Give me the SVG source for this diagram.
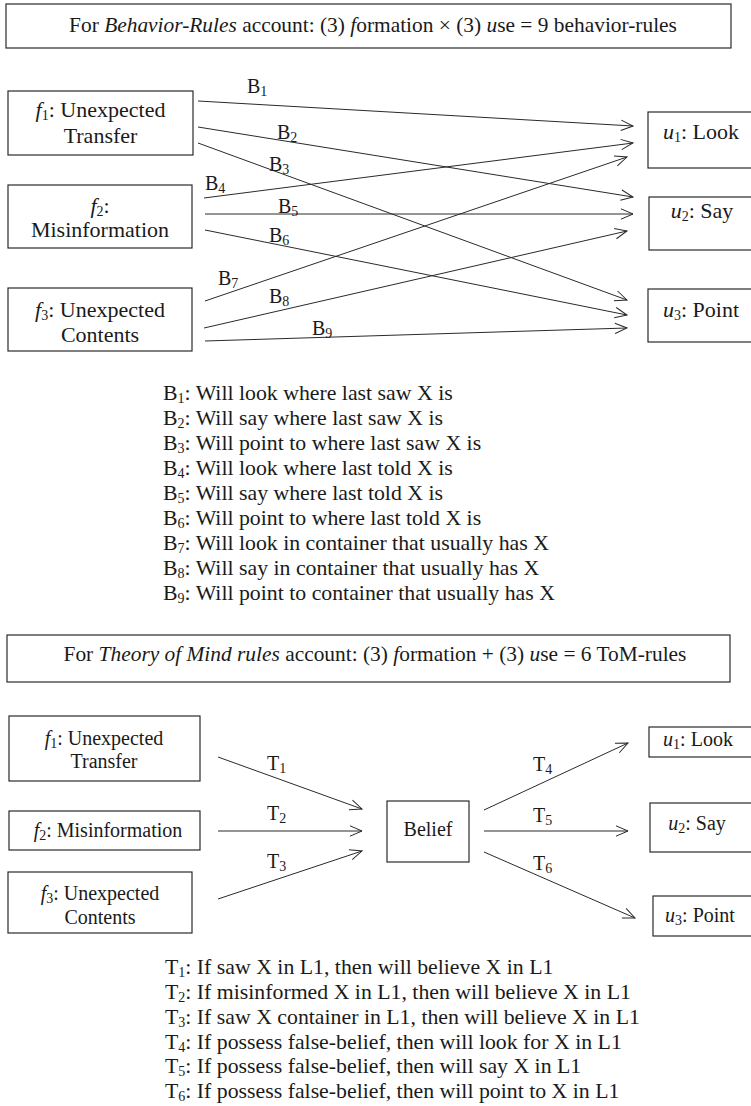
<svg xmlns="http://www.w3.org/2000/svg" width="751" height="1106" viewBox="0 0 751 1106">
<style>
text{font-family:"Liberation Serif","Times New Roman",serif;fill:#1a1a1a}
.box{fill:#fff;stroke:#2a2a2a;stroke-width:1.2}
.n1{font-size:22px}
.n2{font-size:20px}
.hd{font-size:21.4px}
.lg{font-size:21.8px}
.lb{font-size:20px}
.sub{font-size:14px}
.it{font-style:italic}
.ln{stroke:#2a2a2a;stroke-width:1;fill:none;marker-end:url(#ah)}
</style>
<defs>
<marker id="ah" markerUnits="userSpaceOnUse" markerWidth="14" markerHeight="12" viewBox="0 0 14 12" refX="13" refY="6" orient="auto">
<path d="M1,0.8 L13,6 L1,11.2" fill="none" stroke="#2a2a2a" stroke-width="1"/>
</marker>
</defs>
<rect width="751" height="1106" fill="#fff"/>

<g id="header1">
<rect class="box" x="6" y="4" width="725" height="44"/>
<text class="hd" x="373" y="32" text-anchor="middle">For <tspan class="it">Behavior-Rules</tspan> account: (3) <tspan class="it">f</tspan>ormation × (3) <tspan class="it">u</tspan>se = 9 behavior-rules</text>
</g>

<g id="top-f1">
<rect class="box" x="8" y="91" width="185" height="64"/>
<text class="n1" x="100.5" y="117" text-anchor="middle"><tspan class="it">f</tspan><tspan class="sub" dy="3">1</tspan><tspan dy="-3">: Unexpected</tspan></text>
<text class="n1" x="100.5" y="143" text-anchor="middle">Transfer</text>
</g>
<g id="top-f2">
<rect class="box" x="8" y="185" width="184" height="63"/>
<text class="n1" x="100" y="213" text-anchor="middle"><tspan class="it">f</tspan><tspan class="sub" dy="3">2</tspan><tspan dy="-3">:</tspan></text>
<text class="n1" x="100" y="237" text-anchor="middle">Misinformation</text>
</g>
<g id="top-f3">
<rect class="box" x="8" y="288" width="184" height="63"/>
<text class="n1" x="100" y="317" text-anchor="middle"><tspan class="it">f</tspan><tspan class="sub" dy="3">3</tspan><tspan dy="-3">: Unexpected</tspan></text>
<text class="n1" x="100" y="342" text-anchor="middle">Contents</text>
</g>
<g id="top-u1">
<rect class="box" x="648" y="112" width="105" height="56"/>
<text class="n1" x="701" y="139" text-anchor="middle"><tspan class="it">u</tspan><tspan class="sub" dy="3">1</tspan><tspan dy="-3">: Look</tspan></text>
</g>
<g id="top-u2">
<rect class="box" x="649" y="197" width="104" height="53"/>
<text class="n1" x="702" y="218" text-anchor="middle"><tspan class="it">u</tspan><tspan class="sub" dy="3">2</tspan><tspan dy="-3">: Say</tspan></text>
</g>
<g id="top-u3">
<rect class="box" x="648" y="289" width="105" height="53"/>
<text class="n1" x="701" y="317" text-anchor="middle"><tspan class="it">u</tspan><tspan class="sub" dy="3">3</tspan><tspan dy="-3">: Point</tspan></text>
</g>

<g id="top-connectors">
<line class="ln" x1="198" y1="101" x2="633" y2="126"/>
<line class="ln" x1="198" y1="127" x2="633" y2="197"/>
<line class="ln" x1="198" y1="143" x2="627" y2="300"/>
<line class="ln" x1="204" y1="198" x2="633" y2="143"/>
<line class="ln" x1="205" y1="214" x2="633" y2="214"/>
<line class="ln" x1="205" y1="230" x2="627" y2="315"/>
<line class="ln" x1="205" y1="301" x2="627" y2="157"/>
<line class="ln" x1="204" y1="328" x2="627" y2="231"/>
<line class="ln" x1="205" y1="341" x2="627" y2="328"/>
<text class="lb" x="247" y="93">B<tspan class="sub" dy="3">1</tspan></text>
<text class="lb" x="277" y="139">B<tspan class="sub" dy="3">2</tspan></text>
<text class="lb" x="269" y="171">B<tspan class="sub" dy="3">3</tspan></text>
<text class="lb" x="205" y="190">B<tspan class="sub" dy="3">4</tspan></text>
<text class="lb" x="278" y="213">B<tspan class="sub" dy="3">5</tspan></text>
<text class="lb" x="269" y="242">B<tspan class="sub" dy="3">6</tspan></text>
<text class="lb" x="218" y="285">B<tspan class="sub" dy="3">7</tspan></text>
<text class="lb" x="269" y="303">B<tspan class="sub" dy="3">8</tspan></text>
<text class="lb" x="312" y="335">B<tspan class="sub" dy="3">9</tspan></text>
</g>

<g id="legend1">
<text class="lg" x="163" y="400">B<tspan class="sub" dy="3">1</tspan><tspan dy="-3">: Will look where last saw X is</tspan></text>
<text class="lg" x="163" y="425">B<tspan class="sub" dy="3">2</tspan><tspan dy="-3">: Will say where last saw X is</tspan></text>
<text class="lg" x="163" y="450">B<tspan class="sub" dy="3">3</tspan><tspan dy="-3">: Will point to where last saw X is</tspan></text>
<text class="lg" x="163" y="475">B<tspan class="sub" dy="3">4</tspan><tspan dy="-3">: Will look where last told X is</tspan></text>
<text class="lg" x="163" y="500">B<tspan class="sub" dy="3">5</tspan><tspan dy="-3">: Will say where last told X is</tspan></text>
<text class="lg" x="163" y="525">B<tspan class="sub" dy="3">6</tspan><tspan dy="-3">: Will point to where last told X is</tspan></text>
<text class="lg" x="163" y="550">B<tspan class="sub" dy="3">7</tspan><tspan dy="-3">: Will look in container that usually has X</tspan></text>
<text class="lg" x="163" y="575">B<tspan class="sub" dy="3">8</tspan><tspan dy="-3">: Will say in container that usually has X</tspan></text>
<text class="lg" x="163" y="600">B<tspan class="sub" dy="3">9</tspan><tspan dy="-3">: Will point to container that usually has X</tspan></text>
</g>

<g id="header2">
<rect class="box" x="7" y="635" width="723" height="47"/>
<text class="hd" x="375" y="661" text-anchor="middle">For <tspan class="it">Theory of Mind rules</tspan> account: (3) <tspan class="it">f</tspan>ormation + (3) <tspan class="it">u</tspan>se = 6 ToM-rules</text>
</g>

<g id="bot-f1">
<rect class="box" x="9" y="716" width="191" height="65"/>
<text class="n2" x="104" y="745" text-anchor="middle"><tspan class="it">f</tspan><tspan class="sub" dy="3">1</tspan><tspan dy="-3">: Unexpected</tspan></text>
<text class="n2" x="104" y="768" text-anchor="middle">Transfer</text>
</g>
<g id="bot-f2">
<rect class="box" x="9" y="811" width="191" height="39"/>
<text class="n2" x="108" y="837" text-anchor="middle"><tspan class="it">f</tspan><tspan class="sub" dy="3">2</tspan><tspan dy="-3">: Misinformation</tspan></text>
</g>
<g id="bot-f3">
<rect class="box" x="8" y="872" width="184" height="61"/>
<text class="n2" x="100" y="900" text-anchor="middle"><tspan class="it">f</tspan><tspan class="sub" dy="3">3</tspan><tspan dy="-3">: Unexpected</tspan></text>
<text class="n2" x="100" y="924" text-anchor="middle">Contents</text>
</g>
<g id="bot-belief">
<rect class="box" x="387" y="801" width="82" height="61"/>
<text class="n2" x="428" y="836" text-anchor="middle">Belief</text>
</g>
<g id="bot-u1">
<rect class="box" x="649" y="727" width="104" height="30"/>
<text class="n2" x="698" y="746" text-anchor="middle"><tspan class="it">u</tspan><tspan class="sub" dy="3">1</tspan><tspan dy="-3">: Look</tspan></text>
</g>
<g id="bot-u2">
<rect class="box" x="650" y="803" width="103" height="49"/>
<text class="n2" x="697" y="830" text-anchor="middle"><tspan class="it">u</tspan><tspan class="sub" dy="3">2</tspan><tspan dy="-3">: Say</tspan></text>
</g>
<g id="bot-u3">
<rect class="box" x="653" y="896" width="100" height="40"/>
<text class="n2" x="700" y="922" text-anchor="middle"><tspan class="it">u</tspan><tspan class="sub" dy="3">3</tspan><tspan dy="-3">: Point</tspan></text>
</g>

<g id="bot-connectors">
<line class="ln" x1="218" y1="757" x2="362" y2="809"/>
<line class="ln" x1="218" y1="831" x2="362" y2="831"/>
<line class="ln" x1="218" y1="899" x2="362" y2="851"/>
<line class="ln" x1="484" y1="810" x2="628" y2="743"/>
<line class="ln" x1="484" y1="831" x2="628" y2="831"/>
<line class="ln" x1="484" y1="852" x2="635" y2="918"/>
<text class="lb" x="267" y="770">T<tspan class="sub" dy="3">1</tspan></text>
<text class="lb" x="267" y="820">T<tspan class="sub" dy="3">2</tspan></text>
<text class="lb" x="267" y="868">T<tspan class="sub" dy="3">3</tspan></text>
<text class="lb" x="533" y="771">T<tspan class="sub" dy="3">4</tspan></text>
<text class="lb" x="533" y="822">T<tspan class="sub" dy="3">5</tspan></text>
<text class="lb" x="533" y="870">T<tspan class="sub" dy="3">6</tspan></text>
</g>

<g id="legend2">
<text class="lg" x="165" y="974">T<tspan class="sub" dy="3">1</tspan><tspan dy="-3">: If saw X in L1, then will believe X in L1</tspan></text>
<text class="lg" x="165" y="999">T<tspan class="sub" dy="3">2</tspan><tspan dy="-3">: If misinformed X in L1, then will believe X in L1</tspan></text>
<text class="lg" x="165" y="1024">T<tspan class="sub" dy="3">3</tspan><tspan dy="-3">: If saw X container in L1, then will believe X in L1</tspan></text>
<text class="lg" x="165" y="1049">T<tspan class="sub" dy="3">4</tspan><tspan dy="-3">: If possess false-belief, then will look for X in L1</tspan></text>
<text class="lg" x="165" y="1073">T<tspan class="sub" dy="3">5</tspan><tspan dy="-3">: If possess false-belief, then will say X in L1</tspan></text>
<text class="lg" x="165" y="1098">T<tspan class="sub" dy="3">6</tspan><tspan dy="-3">: If possess false-belief, then will point to X in L1</tspan></text>
</g>
</svg>
